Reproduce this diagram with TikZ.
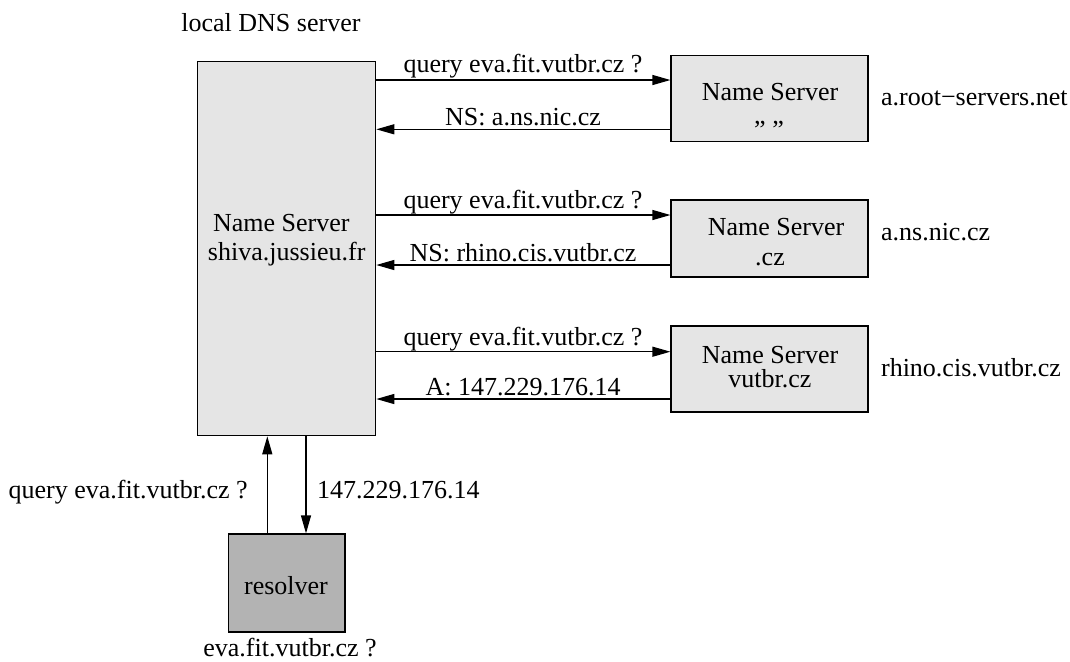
\documentclass[tikz,border=0pt]{standalone}
\usepackage{fontspec}
\setmainfont{Liberation Serif}
\usetikzlibrary{arrows.meta}
\definecolor{boxgray}{gray}{0.898}
\definecolor{resgray}{gray}{0.702}
\begin{document}
\begin{tikzpicture}[x=0.5pt,y=-0.5pt,
  every node/.style={font=\fontsize{13}{15.6}\selectfont, inner sep=0pt},
  server/.style={draw=black, line width=0.6pt, fill=boxgray},
  msg/.style={draw=black, line width=0.6pt, -{Triangle[length=9pt,width=5pt]}},
  txt/.style={anchor=base},
  side/.style={anchor=base west}]
\useasboundingbox (0,0) rectangle (1070,661);

% servers
\node[server, minimum width=89.2pt, minimum height=187pt] (local) at (286.5,248.7) {};
\node[server, minimum width=98.5pt, minimum height=43pt] (root) at (769.5,98.7) {};
\node[server, minimum width=98.5pt, minimum height=38.5pt] (cz) at (769.5,238.5) {};
\node[server, minimum width=98.5pt, minimum height=43pt] (vutbr) at (769.5,369) {};
\node[server, fill=resgray, minimum width=58.35pt, minimum height=49pt] (resolver) at (286.7,583) {};

% texts inside the boxes
\node[txt] (localA) at (281.3,231.7) {Name Server};
\node[txt] (localB) at (286.7,260) {shiva.jussieu.fr};
\node[txt] (rootA) at (770,100) {Name Server};
\node[txt] (rootB) at (769,138) {\symbol{34}\ \symbol{34}};
\node[txt] (czA) at (776,235) {Name Server};
\node[txt] (czB) at (770,265) {.cz};
\node[txt] (vutbrA) at (770,363.3) {Name Server};
\node[txt] (vutbrB) at (770,387) {vutbr.cz};
\node[txt] (resA) at (286,594) {resolver};

% names beside the boxes
\node[side] (title) at (181,31.7) {local DNS server};
\node[side] (rootN) at (880.7,105) {a.root−servers.net};
\node[side] (czN) at (880.7,240) {a.ns.nic.cz};
\node[side] (vutbrN) at (880.7,376.7) {rhino.cis.vutbr.cz};
\node[txt] (resN) at (290,656) {eva.fit.vutbr.cz ?};

% message levels
\coordinate (q1) at (0,80);
\coordinate (a1) at (0,129.3);
\coordinate (q2) at (0,215);
\coordinate (a2) at (0,265);
\coordinate (q3) at (0,351.7);
\coordinate (a3) at (0,399);
\coordinate (up) at (267.3,0);
\coordinate (down) at (306,0);

% iterative queries
\draw[msg] (local.east |- q1) -- (root.west |- q1);
\draw[msg] (root.west |- a1) -- (local.east |- a1);
\draw[msg] (local.east |- q2) -- (cz.west |- q2);
\draw[msg] (cz.west |- a2) -- (local.east |- a2);
\draw[msg] (local.east |- q3) -- (vutbr.west |- q3);
\draw[msg] (vutbr.west |- a3) -- (local.east |- a3);

\node[txt] (lq1) at (523,72) {query eva.fit.vutbr.cz ?};
\node[txt] (la1) at (523,125.3) {NS: a.ns.nic.cz};
\node[txt] (lq2) at (523,208) {query eva.fit.vutbr.cz ?};
\node[txt] (la2) at (523,261.5) {NS: rhino.cis.vutbr.cz};
\node[txt] (lq3) at (523,345) {query eva.fit.vutbr.cz ?};
\node[txt] (la3) at (523,395) {A: 147.229.176.14};

% resolver exchange
\draw[msg] (resolver.north -| up) -- (local.south -| up);
\draw[msg] (local.south -| down) -- (resolver.north -| down);
\node[anchor=base east] (rq) at (248,498) {query eva.fit.vutbr.cz ?};
\node[anchor=base west] (ra) at (316.7,498) {147.229.176.14};
\end{tikzpicture}
\end{document}
